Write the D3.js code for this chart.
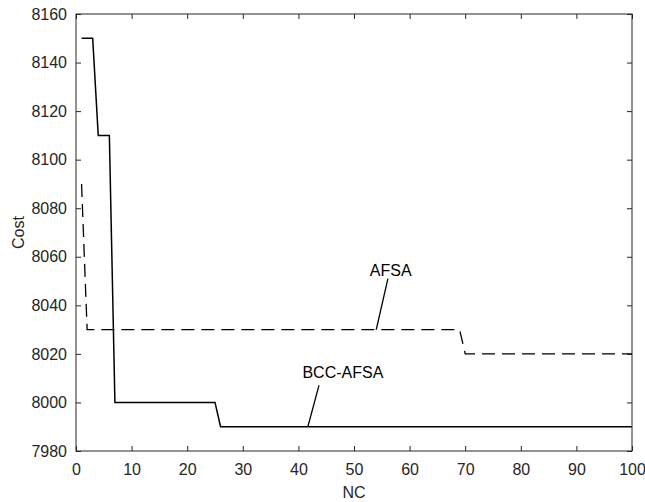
<!DOCTYPE html>
<html>
<head>
<meta charset="utf-8">
<script src="https://cdn.jsdelivr.net/npm/d3@7"></script>
<style>
  body { margin: 0; background: #fff; }
  text { font-family: "Liberation Sans", Arial, sans-serif; }
</style>
</head>
<body>
<svg width="645" height="502"></svg>
<script>
// iteration numbers and cost values
var bccX = [1, 3, 4, 6, 7, 25, 26, 100];
var bccCost = [8150, 8150, 8110, 8110, 8000, 8000, 7990, 7990];
var afsaX = [1, 2, 69, 70, 100];
var afsaCost = [8090, 8030, 8030, 8020, 8020];
var xTicks = [0, 10, 20, 30, 40, 50, 60, 70, 80, 90, 100];
var yTicks = [7980, 8000, 8020, 8040, 8060, 8080, 8100, 8120, 8140, 8160];
// annotation: label position and arrow end, in data units
var notes = [
  {label: "AFSA", tx: 56.6, ty: 8052, x1: 56.1, y1: 8051, x2: 54, y2: 8030},
  {label: "BCC-AFSA", tx: 48, ty: 8010, x1: 43.7, y1: 8007, x2: 41.7, y2: 7990}
];

var margin = {top: 14, right: 13, bottom: 51, left: 76},
    width = 645 - margin.left - margin.right,
    height = 502 - margin.top - margin.bottom;

var x = d3.scaleLinear().domain([0, 100]).range([0, width]);
var y = d3.scaleLinear().domain([7980, 8160]).range([height, 0]);

var svg = d3.select("svg")
  .append("g")
  .attr("transform", "translate(" + margin.left + "," + margin.top + ")");

var axisColor = "#262626";
var fontSize = "16px";
function styleAxis(g) {
  g.select(".domain").remove();
  g.selectAll("line").attr("stroke", axisColor);
  g.selectAll("text").attr("fill", axisColor).style("font-size", fontSize);
}

// bottom & left (ticks inside)
svg.append("g")
  .attr("transform", "translate(0," + height + ")")
  .call(d3.axisBottom(x).tickValues(xTicks).tickSizeInner(-5).tickPadding(13).tickFormat(d3.format("d")))
  .call(styleAxis);
svg.append("g")
  .call(d3.axisLeft(y).tickValues(yTicks).tickSizeInner(-5).tickPadding(9).tickFormat(d3.format("d")))
  .call(styleAxis);
// top & right, ticks only
svg.append("g")
  .call(d3.axisTop(x).tickValues(xTicks).tickSizeInner(-5).tickFormat(""))
  .call(styleAxis);
svg.append("g")
  .attr("transform", "translate(" + width + ",0)")
  .call(d3.axisRight(y).tickValues(yTicks).tickSizeInner(-5).tickFormat(""))
  .call(styleAxis);

svg.append("rect")
  .attr("width", width).attr("height", height)
  .attr("fill", "none").attr("stroke", axisColor).attr("stroke-width", 1);

var line = d3.line()
  .x(function(d) { return x(d[0]); })
  .y(function(d) { return y(d[1]); });

svg.append("path")
  .datum(d3.zip(afsaX, afsaCost))
  .attr("fill", "none").attr("stroke", "#000").attr("stroke-width", 1.3)
  .attr("stroke-dasharray", "13,7")
  .attr("d", line);

svg.append("path")
  .datum(d3.zip(bccX, bccCost))
  .attr("fill", "none").attr("stroke", "#000").attr("stroke-width", 1.5)
  .attr("d", line);

notes.forEach(function(n) {
  svg.append("line")
    .attr("x1", x(n.x1)).attr("y1", y(n.y1))
    .attr("x2", x(n.x2)).attr("y2", y(n.y2))
    .attr("stroke", "#000").attr("stroke-width", 1.3);
  svg.append("text")
    .attr("x", x(n.tx)).attr("y", y(n.ty))
    .attr("text-anchor", "middle")
    .style("font-size", fontSize)
    .attr("fill", "#000")
    .text(n.label);
});

// axis titles
svg.append("text")
  .attr("x", width / 2).attr("y", height + 47)
  .attr("text-anchor", "middle").style("font-size", fontSize).attr("fill", axisColor)
  .text("NC");
svg.append("text")
  .attr("transform", "translate(-52," + height / 2 + ") rotate(-90)")
  .attr("text-anchor", "middle").style("font-size", fontSize).attr("fill", axisColor)
  .text("Cost");
</script>
</body>
</html>
